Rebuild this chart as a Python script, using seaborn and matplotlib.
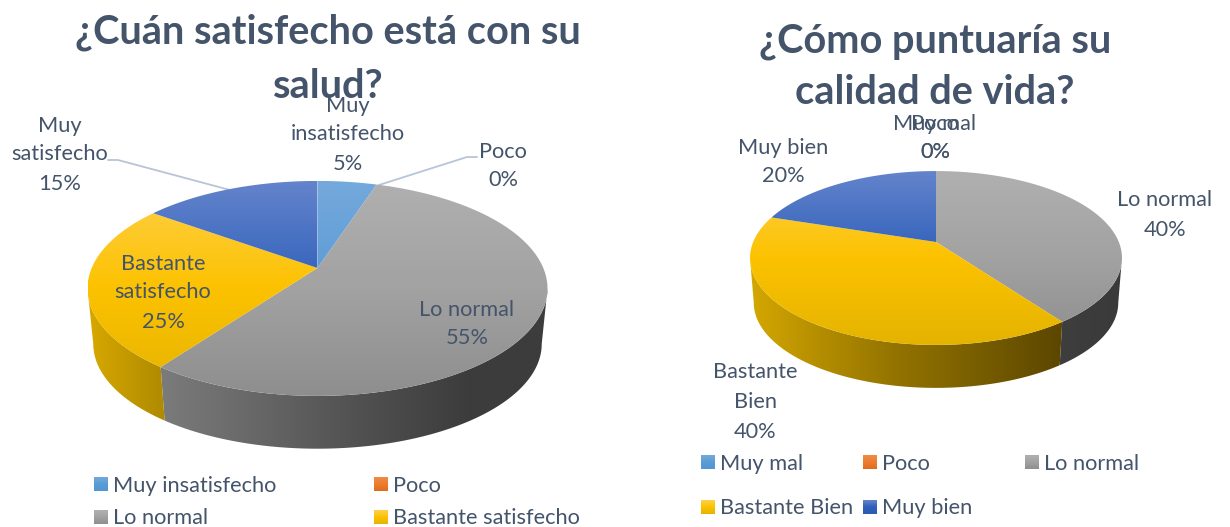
import numpy as np
import seaborn as sns
import matplotlib.pyplot as plt
from matplotlib.colors import LinearSegmentedColormap
from matplotlib.patches import Polygon

# data
left_title = ['¿Cuán satisfecho está con su', 'salud?']
left_cats = ['Muy insatisfecho', 'Poco', 'Lo normal', 'Bastante satisfecho', 'Muy satisfecho']
left_vals = [5, 0, 55, 25, 15]
right_title = ['¿Cómo puntuaría su', 'calidad de vida?']
right_cats = ['Muy mal', 'Poco', 'Lo normal', 'Bastante Bien', 'Muy bien']
right_vals = [0, 0, 40, 40, 20]

sns.set_theme(style='white')
plt.rcParams['font.family'] = ['Lato', 'DejaVu Sans']

TXT = '#44546a'
LEAD = '#b8c5d6'
# colour stops of the top faces, same order as the categories
top_grad = [('#74a9dc', '#5b9bd5', '#5296d2'),
            ('#f08a45', '#ed7d31', '#e06c1c'),
            ('#b0b0b0', '#a2a2a2', '#8e8e8e'),
            ('#ffd04d', '#fcc200', '#e4b300'),
            ('#6484cc', '#2f60ba', '#2a5cb4')]


def grad(ax, patch, colors, vertical, ext=None):
    # paint a gradient clipped to the patch
    ax.add_patch(patch)
    xy = patch.get_xy()
    x0, x1 = xy[:, 0].min(), xy[:, 0].max()
    y0, y1 = xy[:, 1].min(), xy[:, 1].max()
    if ext is not None:
        y0, y1 = ext
    patch.set_facecolor('none')
    patch.set_edgecolor('none')
    if x1 - x0 < 0.01:
        return
    g = np.linspace(0, 1, 256)
    g = g.reshape(-1, 1) if vertical else g.reshape(1, -1)
    cmap = LinearSegmentedColormap.from_list('g', colors)
    im = ax.imshow(g, cmap=cmap, extent=(x0, x1, y1, y0), origin='upper', aspect='auto',
                   vmin=0, vmax=1, interpolation='bilinear', zorder=patch.get_zorder())
    im.set_clip_path(patch)


def proj(th, cx, cy, r, h, k):
    u, v = np.sin(th), np.cos(th)
    s = 1 / (1 + k * v)
    return np.column_stack([cx + r * u * s, cy - h * v * s])


def pie3d(ax, vals, geo, side_cols):
    cx, cy, r, h, k, d, sc = geo
    edges = np.radians(np.cumsum([0] + vals) * 3.6)
    # sides first, cut at the widest point of the ellipse
    ts = np.arccos(-k)
    for i in range(len(vals)):
        a = max(edges[i], ts)
        b = min(edges[i + 1], 2 * np.pi - ts)
        if b <= a:
            continue
        th = np.linspace(a, b, 100)
        up = proj(th, cx, cy, r, h, k)
        lo = proj(th, cx, cy + d, r * sc, h * sc, k)
        poly = Polygon(np.vstack([up, lo[::-1]]), closed=True, transform=ax.transData, zorder=2)
        grad(ax, poly, side_cols[i], False)
    # top faces
    ytop = cy - h / (1 + k)
    ybot = cy + h / (1 - k)
    for i in range(len(vals)):
        if vals[i] == 0:
            continue
        th = np.linspace(edges[i], edges[i + 1], 120)
        pts = np.vstack([[cx, cy], proj(th, cx, cy, r, h, k)])
        poly = Polygon(pts, closed=True, transform=ax.transData, zorder=3)
        grad(ax, poly, top_grad[i], True, ext=(ytop, ybot))


def lab(ax, x, ys, lines, size=15.7):
    for y, s in zip(ys, lines):
        ax.text(x, y + 1.5, s, color=TXT, fontsize=size, ha='center', va='center', zorder=6)


def leg(ax, x, y, i, s):
    p = Polygon([[x, y - 7], [x + 14, y - 7], [x + 14, y + 7], [x, y + 7]], closed=True,
                transform=ax.transData, zorder=4)
    grad(ax, p, top_grad[i], True)
    ax.text(x + 19, y + 1.5, s, color=TXT, fontsize=15.7, ha='left', va='center', zorder=6)


fig = plt.figure(figsize=(12.3, 5.27), dpi=100)
ax = fig.add_axes([0, 0, 1, 1])

# left chart
pie3d(ax, left_vals, (317.5, 268, 225.8, 103.6, 0.19, 56, 0.975),
      [('#d0a000', '#b08c00'), ('#777777', '#777777'),
       ('#7b7b7b', '#6b6b6b', '#5a5a5a', '#4a4a4a', '#3c3c3c', '#3c3c3c'),
       ('#d8a800', '#ae8a00'), ('#2f5597', '#2f5597')])
for x, y in [((108, 118, 230), (160, 160, 190)), ((477, 467, 379), (157, 157, 185))]:
    ax.plot(x, y, color=LEAD, lw=1.3, zorder=2)
for y, s in zip((32, 86), left_title):
    ax.text(328, y, s, color=TXT, fontsize=28.6, fontweight='bold', ha='center', va='center', zorder=5)
lab(ax, 348, (104, 133, 162), ['Muy', 'insatisfecho', f'{left_vals[0]}%'])
lab(ax, 503, (150, 179), [left_cats[1], f'{left_vals[1]}%'])
lab(ax, 60, (124, 153, 182), ['Muy', 'satisfecho', f'{left_vals[4]}%'])
lab(ax, 163, (262, 291, 320), ['Bastante', 'satisfecho', f'{left_vals[3]}%'])
lab(ax, 467, (308, 337), [left_cats[2], f'{left_vals[2]}%'])
for (x, y), i in zip([(94, 484), (374, 484), (94, 517), (374, 517)], range(4)):
    leg(ax, x, y, i, left_cats[i])

# right chart
pie3d(ax, right_vals, (936, 242, 182.8, 84, 0.184, 45, 0.98),
      [('#777777', '#777777'), ('#777777', '#777777'), ('#3e3e3e', '#3a3a3a'),
       ('#d4a800', '#b08a00', '#8f7000', '#765c00', '#5c4600'), ('#2f5597', '#2f5597')])
for y, s in zip((42, 93), right_title):
    ax.text(935, y, s, color=TXT, fontsize=28.6, fontweight='bold', ha='center', va='center', zorder=5)
lab(ax, 935, (122, 151), [right_cats[0], f'{right_vals[0]}%'])
lab(ax, 935, (122, 151), [right_cats[1], f'{right_vals[1]}%'])
lab(ax, 783, (146, 175), [right_cats[4], f'{right_vals[4]}%'])
lab(ax, 1165, (199, 228), [right_cats[2], f'{right_vals[2]}%'])
lab(ax, 755, (371, 400, 430), ['Bastante', 'Bien', f'{right_vals[3]}%'])
for (x, y), i in zip([(701, 462), (863, 462), (1025, 462), (701, 507), (863, 507)], [0, 1, 2, 3, 4]):
    leg(ax, x, y, i, right_cats[i])

ax.set_xlim(0, 1230)
ax.set_ylim(527, 0)
ax.axis('off')
fig.savefig('out.png', dpi=100)
